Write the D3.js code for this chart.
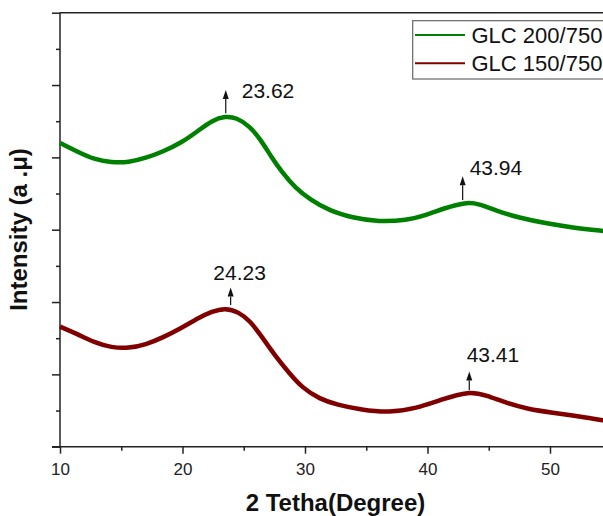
<!DOCTYPE html>
<html>
<head>
<meta charset="utf-8">
<script src="https://cdn.jsdelivr.net/npm/d3@7"></script>
<style>
  body { margin: 0; background: #fff; }
  svg { display: block; font-family: "Liberation Sans", Arial, sans-serif; }
</style>
</head>
<body>
<script>
// values
var seriesNames = ["GLC 200/750", "GLC 150/750"];
var seriesColors = ["#008000", "#800000"];

var greenAngle = [10.0, 11.4, 12.8, 14.2, 15.6, 17.0, 18.4, 19.9, 21.3, 22.4, 23.5, 24.4, 25.5, 26.4, 27.2, 28.1, 29.2, 30.4, 32.0, 34.0, 36.0, 38.3, 39.9, 41.4, 43.1, 44.2, 45.6, 47.6, 49.6, 51.8, 54.5];
var greenIntensity = [4.20, 4.08, 3.97, 3.93, 3.93, 3.99, 4.08, 4.20, 4.37, 4.51, 4.57, 4.55, 4.43, 4.24, 4.02, 3.80, 3.58, 3.42, 3.26, 3.16, 3.11, 3.13, 3.20, 3.30, 3.38, 3.36, 3.26, 3.16, 3.09, 3.03, 2.98];

var redAngle = [10.0, 11.4, 12.8, 14.2, 15.6, 17.0, 18.4, 19.9, 21.3, 22.4, 23.5, 24.6, 25.5, 26.4, 27.5, 28.7, 29.8, 31.2, 32.6, 34.6, 36.9, 39.1, 41.1, 43.4, 44.8, 46.5, 48.2, 50.2, 52.4, 54.5];
var redIntensity = [1.66, 1.56, 1.44, 1.37, 1.36, 1.41, 1.51, 1.64, 1.78, 1.87, 1.92, 1.86, 1.74, 1.54, 1.27, 1.02, 0.81, 0.66, 0.58, 0.51, 0.47, 0.53, 0.65, 0.77, 0.71, 0.60, 0.52, 0.47, 0.42, 0.36];

var xTicks = [10, 20, 30, 40, 50];
var xMinorTicks = [15, 25, 35, 45];
var yTicks = [0, 1, 2, 3, 4, 5, 6];
var yMinorTicks = [0.5, 1.5, 2.5, 3.5, 4.5, 5.5];

// peak annotations
var peakLabels = ["23.62", "43.94", "24.23", "43.41"];
var peakArrowAngle = [23.53, 42.87, 23.93, 43.41];
var peakArrowBase = [4.61, 3.41, 1.96, 0.78];
var peakArrowTip = [4.93, 3.74, 2.20, 1.04];

// label placement relative to arrow tip (px)
var labelOffset = [[16, 8, "start"], [7, -1, "start"], [9, -8, "middle"], [-2.6, -9, "start"]];

var svgWidth = 603;
var svgHeight = 516;

var margin = { top: 12.7, left: 60, bottom: 446.7 };

var svg = d3.select("body")
  .append("svg")
  .attr("width", svgWidth)
  .attr("height", svgHeight);

var x = d3.scaleLinear()
  .domain([10, 54.5])
  .range([margin.left, margin.left + 44.5 * 12.25]);

var y = d3.scaleLinear()
  .domain([0, 6])
  .range([margin.bottom, margin.top]);

var axisColor = "#222";

// bottom axis, major + minor
var bottomAxis = d3.axisBottom(x).tickValues(xTicks).tickSize(7).tickPadding(9).tickSizeOuter(0);
var gx = svg.append("g")
  .attr("transform", `translate(0, ${margin.bottom})`)
  .call(bottomAxis);
gx.select(".domain").remove();
gx.selectAll("text").attr("font-size", 17).attr("fill", "#222").attr("font-family", "Liberation Sans, Arial, sans-serif");

var gxm = svg.append("g")
  .attr("transform", `translate(0, ${margin.bottom})`)
  .call(d3.axisBottom(x).tickValues(xMinorTicks).tickSize(4).tickFormat(""));
gxm.select(".domain").remove();

// left axis, major + minor, no labels
var gy = svg.append("g")
  .attr("transform", `translate(${margin.left}, 0)`)
  .call(d3.axisLeft(y).tickValues(yTicks).tickSize(8).tickFormat(""));
gy.select(".domain").remove();

var gym = svg.append("g")
  .attr("transform", `translate(${margin.left}, 0)`)
  .call(d3.axisLeft(y).tickValues(yMinorTicks).tickSize(4).tickFormat(""));
gym.select(".domain").remove();

svg.selectAll(".tick line").attr("stroke", axisColor).attr("stroke-width", 1.5);

// frame lines
svg.append("line")
  .attr("x1", margin.left).attr("x2", margin.left)
  .attr("y1", y(6)).attr("y2", y(0))
  .attr("stroke", axisColor).attr("stroke-width", 1.5);
svg.append("line")
  .attr("x1", margin.left - 8).attr("x2", svgWidth)
  .attr("y1", y(0)).attr("y2", y(0))
  .attr("stroke", axisColor).attr("stroke-width", 1.5);
svg.append("line")
  .attr("x1", margin.left).attr("x2", svgWidth)
  .attr("y1", y(6)).attr("y2", y(6))
  .attr("stroke", axisColor).attr("stroke-width", 1.5);

// curves
var line = d3.line()
  .x(d => x(d[0]))
  .y(d => y(d[1]))
  .curve(d3.curveBasis);

var series = [
  d3.zip(greenAngle, greenIntensity),
  d3.zip(redAngle, redIntensity)
];

svg.selectAll(".curve")
  .data(series)
  .enter()
  .append("path")
  .attr("class", "curve")
  .attr("d", line)
  .attr("fill", "none")
  .attr("stroke", (d, i) => seriesColors[i])
  .attr("stroke-width", 4.5)
  .attr("stroke-linejoin", "round");

// arrows
peakLabels.forEach(function(lbl, i) {
  var ax = x(peakArrowAngle[i]);
  var tipY = y(peakArrowTip[i]);
  svg.append("line")
    .attr("x1", ax).attr("x2", ax)
    .attr("y1", y(peakArrowBase[i])).attr("y2", tipY + 9)
    .attr("stroke", "#111").attr("stroke-width", 1.2);
  svg.append("path")
    .attr("d", `M${ax - 3},${tipY + 9} L${ax},${tipY} L${ax + 3},${tipY + 9} Z`)
    .attr("fill", "#111");
  svg.append("text")
    .attr("x", ax + labelOffset[i][0])
    .attr("y", tipY + labelOffset[i][1])
    .attr("text-anchor", labelOffset[i][2])
    .attr("font-size", 21)
    .attr("fill", "#111")
    .text(lbl);
});

// legend
var legend = svg.append("g");
legend.append("rect")
  .attr("x", 412.7).attr("y", 20.7)
  .attr("width", 200).attr("height", 58.3)
  .attr("fill", "#fff")
  .attr("stroke", "#666").attr("stroke-width", 1.2);

seriesNames.forEach(function(name, i) {
  var ly = 35 + i * 28.3;
  legend.append("line")
    .attr("x1", 415).attr("x2", 465)
    .attr("y1", ly).attr("y2", ly)
    .attr("stroke", seriesColors[i]).attr("stroke-width", 2);
  legend.append("text")
    .attr("x", 471.5).attr("y", ly + 8)
    .attr("font-size", 22)
    .attr("fill", "#111")
    .text(name);
});

// axis titles
svg.append("text")
  .attr("x", (margin.left + svgWidth) / 2 + 4)
  .attr("y", 511)
  .attr("text-anchor", "middle")
  .attr("font-size", 24)
  .attr("font-weight", "bold")
  .attr("fill", "#111")
  .text("2 Tetha(Degree)");

svg.append("text")
  .attr("transform", "translate(27, 229.5) rotate(-90)")
  .attr("text-anchor", "middle")
  .attr("font-size", 24)
  .attr("font-weight", "bold")
  .attr("fill", "#111")
  .text("Intensity (a .\u03bc)");
</script>
</body>
</html>
